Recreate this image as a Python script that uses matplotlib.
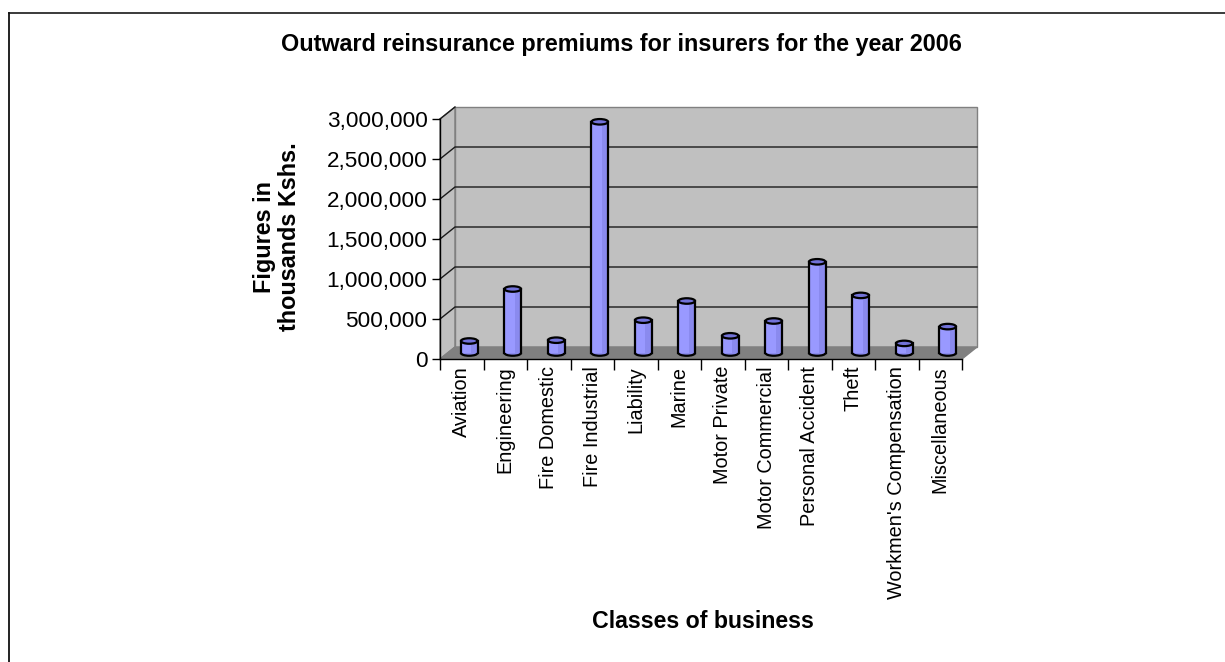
import matplotlib
matplotlib.use("Agg")
import matplotlib.pyplot as plt
from matplotlib.patches import Rectangle, Polygon, Ellipse, Arc
from matplotlib.lines import Line2D
from matplotlib.ticker import FuncFormatter, FixedLocator

plt.rcParams["font.family"] = ["Liberation Sans", "DejaVu Sans"]

# ---- data (thousands of Kshs.) ----
categories = ["Aviation", "Engineering", "Fire Domestic", "Fire Industrial",
              "Liability", "Marine", "Motor Private", "Motor Commercial",
              "Personal Accident", "Theft", "Workmen's Compensation",
              "Miscellaneous"]
premiums = [150000, 800000, 160000, 2890000, 410000, 650000,
            215000, 400000, 1140000, 720000, 120000, 330000]
y_ticks = [0, 500000, 1000000, 1500000, 2000000, 2500000, 3000000]

title = "Outward reinsurance premiums for insurers for the year 2006"
x_title = "Classes of business"
y_title = "Figures in\nthousands Kshs."

# ---- figure / plot-area geometry (pixels) ----
W, H = 1225, 662
fig = plt.figure(figsize=(W / 100, H / 100), dpi=100)
fig.patch.set_facecolor("white")

left_px, right_px, bottom_px, top_px = 440, 962, 359, 119
ax = fig.add_axes([left_px / W, 1 - bottom_px / H,
                   (right_px - left_px) / W, (bottom_px - top_px) / H])
n = len(categories)
ymax = y_ticks[-1]
ax.set_xlim(0, n)
ax.set_ylim(0, ymax)
ax.patch.set_visible(False)

# data units per pixel, used for the oblique depth of the 3-D box
sx = n / (right_px - left_px)
sy = ymax / (bottom_px - top_px)
ddx, ddy = 15 * sx, 12 * sy          # depth of the box
WALL = "#C0C0C0"
WALL_EDGE = "#808080"
FLOOR = "#808080"
BAR = "#9999FF"
BAR_SHADE = "#8A8AEE"
BAR_TOP = "#7272D8"

# side wall
ax.add_patch(Polygon([(0, 0), (0, ymax), (ddx, ymax + ddy), (ddx, ddy)],
                     closed=True, facecolor=WALL, edgecolor=WALL_EDGE,
                     lw=1, zorder=0.5, clip_on=False))
# back wall
ax.add_patch(Rectangle((ddx, ddy), n, ymax, facecolor=WALL,
                       edgecolor=WALL_EDGE, lw=1, zorder=0.5, clip_on=False))
# gridlines on walls
for t in y_ticks[1:-1]:
    ax.add_line(Line2D([0, ddx, n + ddx], [t, t + ddy, t + ddy],
                       color="#1a1a1a", lw=1, zorder=0.7, clip_on=False))
ax.add_line(Line2D([0, ddx], [ymax, ymax + ddy], color="#1a1a1a", lw=1,
                   zorder=0.7, clip_on=False))
# floor
ax.add_patch(Polygon([(0, 0), (n, 0), (n + ddx, ddy), (ddx, ddy)],
                     closed=True, facecolor=FLOOR, edgecolor=WALL_EDGE,
                     lw=1, zorder=0.8, clip_on=False))

# ---- cylinders, standing at mid depth ----
bw = 0.38                      # cylinder diameter, category units
eh = 5.5 * sy                  # ellipse height of the cylinder caps
ox, oy = ddx / 2, ddy / 2
for i, v in enumerate(premiums):
    xc = i + 0.5 + ox
    x0 = xc - bw / 2
    z = 2 + i * 0.01
    ax.add_patch(Rectangle((x0, oy), bw, v, facecolor=BAR, edgecolor="none",
                           zorder=z, clip_on=False))
    # subtle shading on the right side of the body
    ax.add_patch(Rectangle((x0 + bw * 0.62, oy), bw * 0.38, v,
                           facecolor=BAR_SHADE, edgecolor="none",
                           zorder=z, clip_on=False))
    ax.add_patch(Ellipse((xc, oy), bw, eh, facecolor=BAR_SHADE,
                         edgecolor="none", zorder=z - 0.001, clip_on=False))
    ax.add_patch(Arc((xc, oy), bw, eh, theta1=180, theta2=360,
                     color="black", lw=1.6, zorder=z + 0.001, clip_on=False))
    for xe in (x0, x0 + bw):
        ax.add_line(Line2D([xe, xe], [oy, oy + v], color="black", lw=1.6,
                           zorder=z + 0.001, clip_on=False))
    ax.add_patch(Ellipse((xc, oy + v), bw, eh, facecolor=BAR_TOP,
                         edgecolor="black", lw=1.6, zorder=z + 0.002,
                         clip_on=False))

# ---- axes, ticks and labels ----
for side in ("top", "right"):
    ax.spines[side].set_visible(False)
for side in ("left", "bottom"):
    ax.spines[side].set_color("black")
    ax.spines[side].set_linewidth(1)
    ax.spines[side].set_zorder(3)

ax.set_yticks(y_ticks)
ax.yaxis.set_major_formatter(FuncFormatter(lambda v, p: f"{int(v):,}"))
ax.tick_params(axis="y", length=6, width=1, pad=3, labelsize=16.2,
               colors="black")

ax.set_xticks([i + 0.5 for i in range(n)])
ax.set_xticklabels(categories, rotation=90, va="top", ha="center")
ax.xaxis.set_minor_locator(FixedLocator(range(n + 1)))
ax.tick_params(axis="x", which="major", length=0, pad=5, labelsize=14.3)
ax.tick_params(axis="x", which="minor", length=8, width=1, colors="black")

fig.text(621 / W, 1 - 45 / H, title, ha="center", va="center",
         fontsize=16.8, fontweight="bold")
fig.text(703 / W, 1 - 621 / H, x_title, ha="center", va="center",
         fontsize=16.7, fontweight="bold")
fig.text(277 / W, 1 - 237 / H, y_title, ha="center", va="center",
         rotation=90, fontsize=16.8, fontweight="bold", linespacing=1.15,
         multialignment="center")

# chart frame (top and left edges)
fig.add_artist(Line2D([8.5 / W, 1], [1 - 12.5 / H, 1 - 12.5 / H],
                      transform=fig.transFigure, color="#2b2b2b", lw=1.3))
fig.add_artist(Line2D([8.5 / W, 8.5 / W], [0, 1 - 12.5 / H],
                      transform=fig.transFigure, color="#111111", lw=1.3))

fig.savefig("out.png", dpi=100)
